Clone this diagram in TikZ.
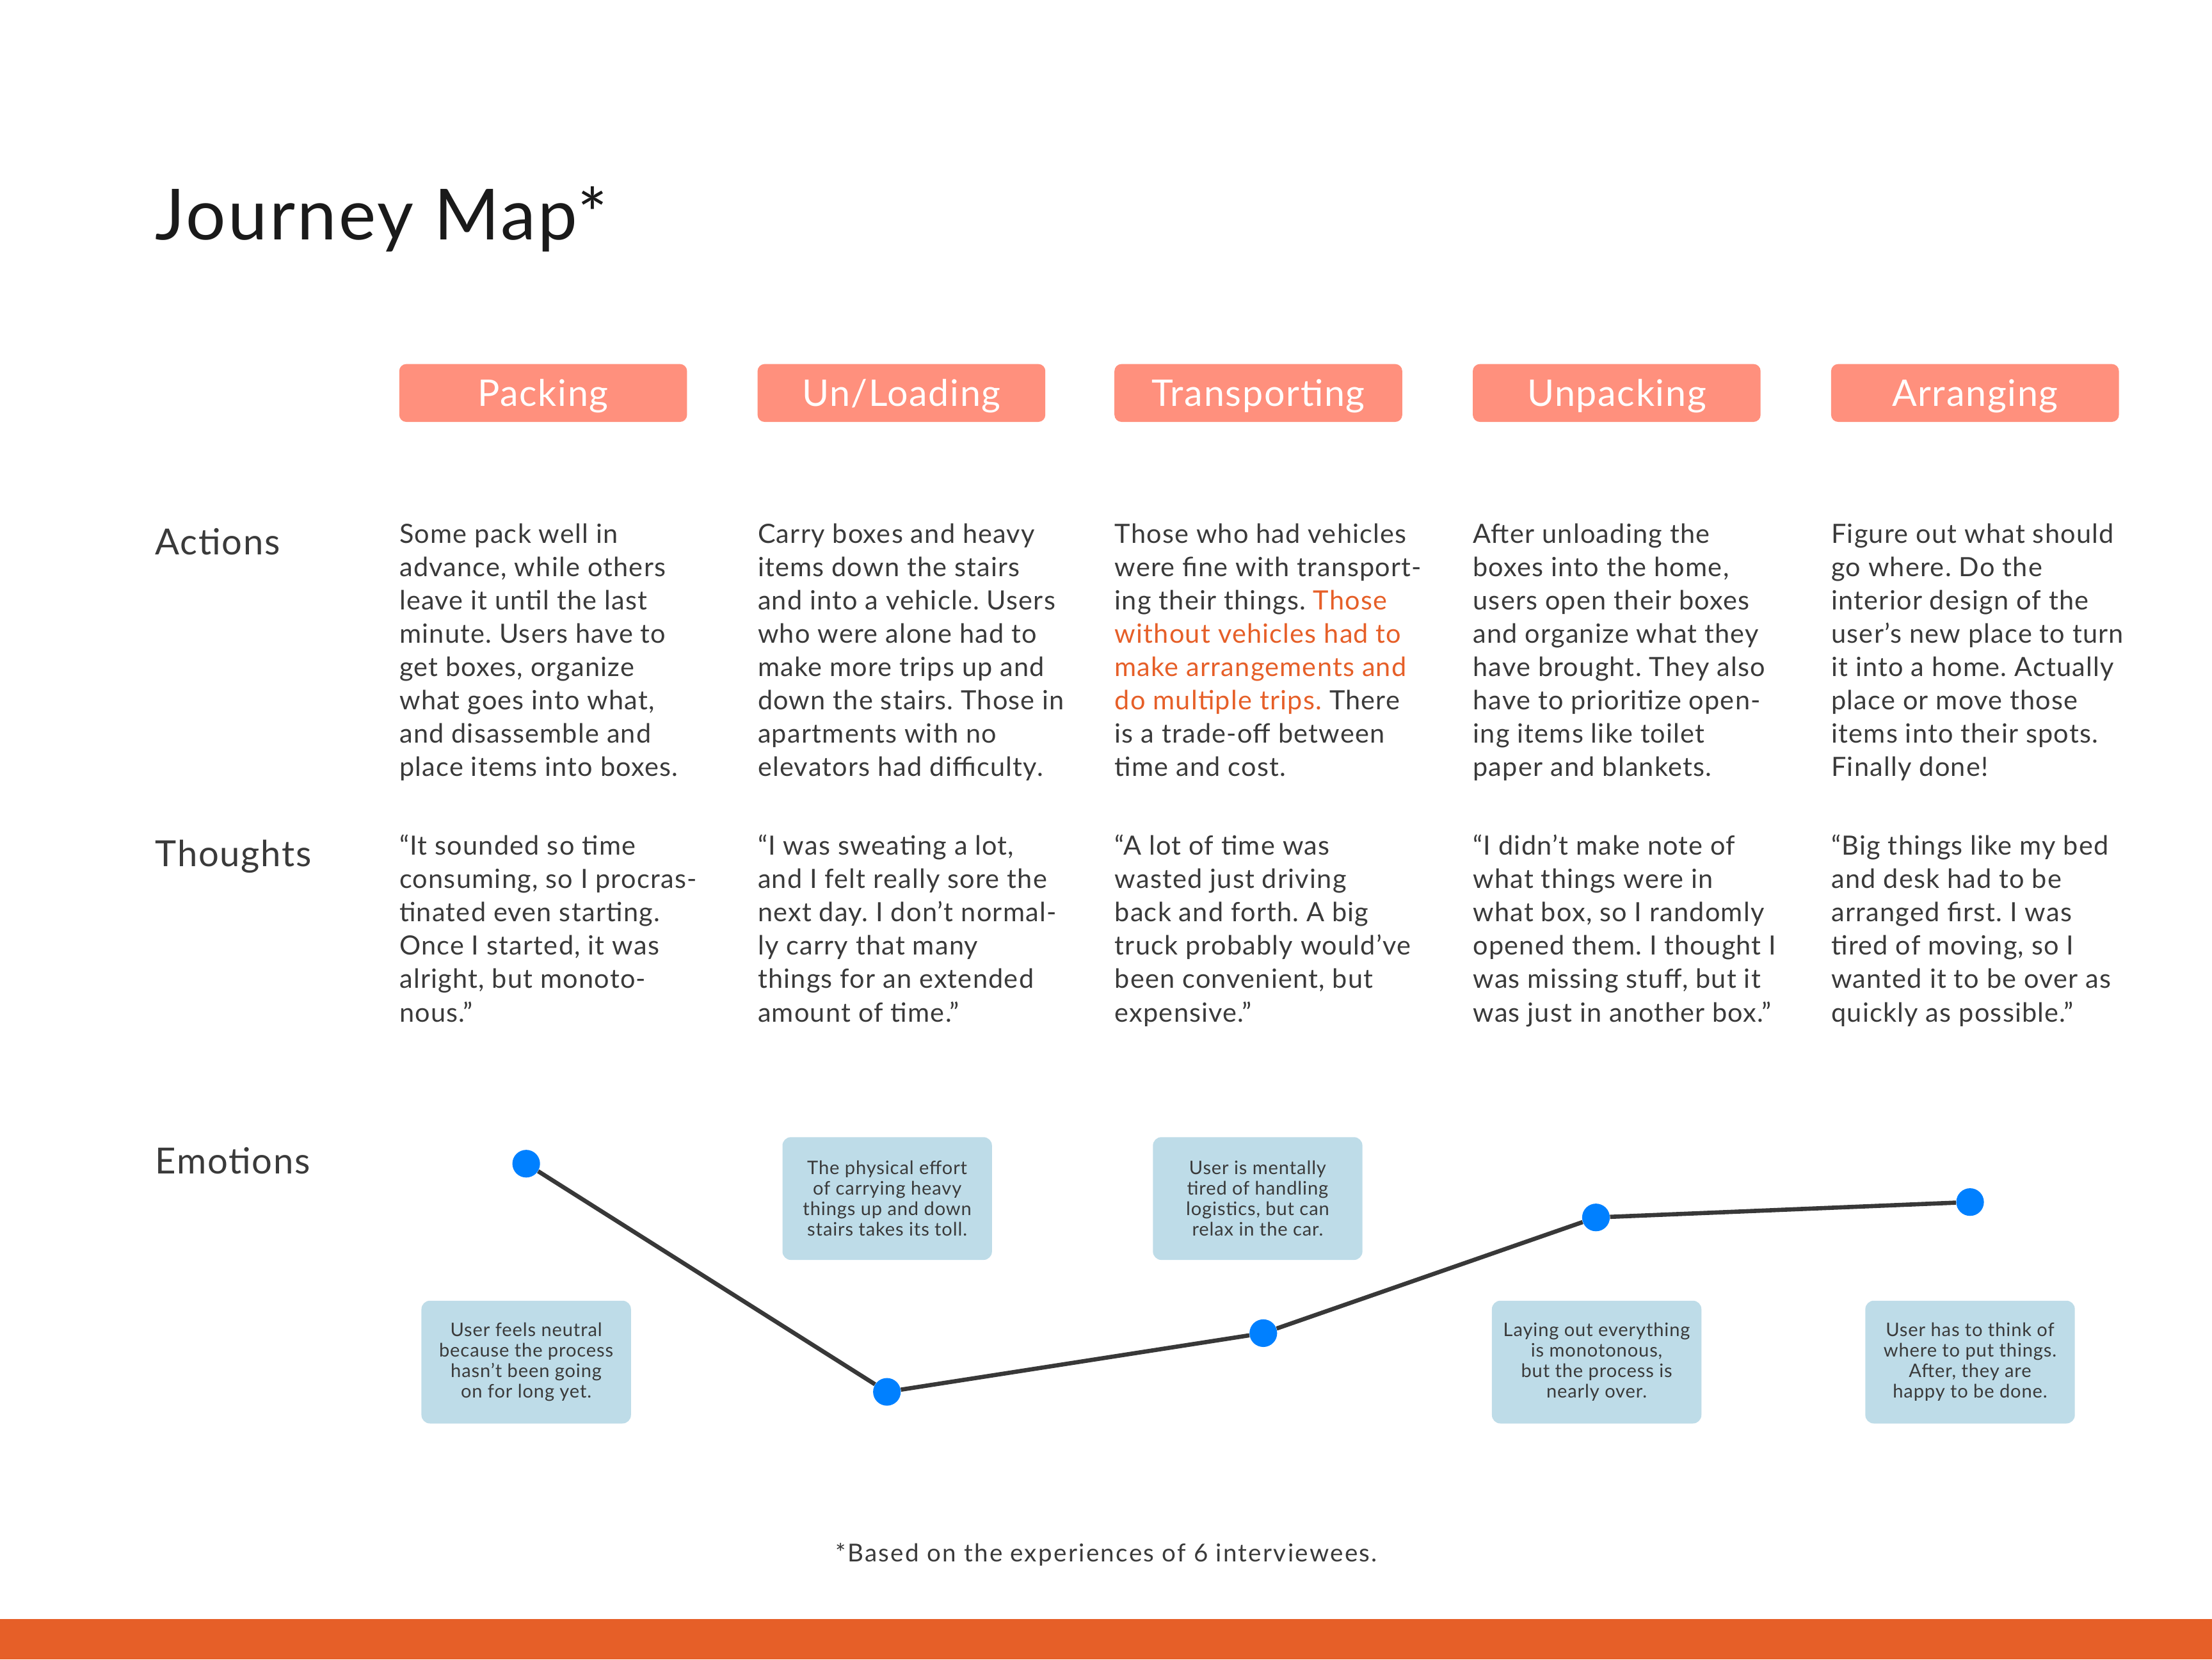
\documentclass[tikz,border=0pt]{standalone}
\usepackage{fontspec}
\setmainfont{Lato}[LetterSpace=3]
\frenchspacing
\definecolor{salmon}{HTML}{FF907D}
\definecolor{accent}{HTML}{E65F28}
\definecolor{ink}{HTML}{3A3A3A}
\definecolor{titleink}{HTML}{1A1A1A}
\definecolor{boxblue}{HTML}{BEDCE8}
\definecolor{dotblue}{HTML}{0080FF}
\definecolor{linegray}{HTML}{383838}
\newcommand{\topstrut}{\rule{0pt}{16pt}}
\begin{document}
\begin{tikzpicture}[x=1pt,y=-1pt,
  stagebox/.style={fill=salmon, rounded corners=5pt, minimum width=204pt, minimum height=41pt,
    text=white, font=\fontsize{26}{30}\selectfont, inner sep=0pt, text height=18.5pt, text depth=0pt},
  rowlabel/.style={anchor=base west, inner sep=0pt, text=ink, font=\fontsize{25.5}{28}\selectfont},
  bodytext/.style={anchor=north west, inner sep=0pt, align=left, text=ink, font=\fontsize{18.8}{23.6}\selectfont},
  emonote/.style={fill=boxblue, rounded corners=6pt, minimum width=148.5pt, minimum height=87pt,
    align=center, text=ink, font=\fontsize{13.2}{14.5}\selectfont, inner sep=0pt},
  emodot/.style={circle, fill=dotblue, minimum size=19.6pt, inner sep=0pt},
  emoline/.style={draw=linegray, line width=3pt}
]
\useasboundingbox (0,0) rectangle (1568,1176);
\fill[white] (0,0) rectangle (1568,1176);

% title
\node[anchor=base west, inner sep=0pt, text=titleink, font=\fontsize{50}{56}\selectfont] (title) at (110,170) {Journey Map*};

% stages
\node[stagebox] (s1) at (385,278.5) {Packing};
\node[stagebox] (s2) at (639,278.5) {Un/Loading};
\node[stagebox] (s3) at (892,278.5) {Transporting};
\node[stagebox] (s4) at (1146,278.5) {Unpacking};
\node[stagebox] (s5) at (1400,278.5) {Arranging};

% row labels
\node[rowlabel] (lact) at (110,393) {Actions};
\node[rowlabel] (lthou) at (110,614) {Thoughts};
\node[rowlabel] (lemo) at (110,832) {Emotions};

% actions
\node[bodytext] (a1) at (283,368.9) {\topstrut Some pack well in\\advance, while others\\leave it until the last\\minute. Users have to\\get boxes, organize\\what goes into what,\\and disassemble and\\place items into boxes.};
\node[bodytext] (a2) at (537,368.9) {\topstrut Carry boxes and heavy\\items down the stairs\\and into a vehicle. Users\\who were alone had to\\make more trips up and\\down the stairs. Those in\\apartments with no\\elevators had difficulty.};
\node[bodytext] (a3) at (790,368.9) {\topstrut Those who had vehicles\\were fine with transport-\\ing their things. {\color{accent}Those}\\{\color{accent}without vehicles had to}\\{\color{accent}make arrangements and}\\{\color{accent}do multiple trips.} There\\is a trade-off between\\time and cost.};
\node[bodytext] (a4) at (1044,368.9) {\topstrut After unloading the\\boxes into the home,\\users open their boxes\\and organize what they\\have brought. They also\\have to prioritize open-\\ing items like toilet\\paper and blankets.};
\node[bodytext] (a5) at (1298,368.9) {\topstrut Figure out what should\\go where. Do the\\interior design of the\\user’s new place to turn\\it into a home. Actually\\place or move those\\items into their spots.\\Finally done!};

% thoughts
\node[bodytext] (t1) at (283,589.9) {\topstrut “It sounded so time\\consuming, so I procras-\\tinated even starting.\\Once I started, it was\\alright, but monoto-\\nous.”};
\node[bodytext] (t2) at (537,589.9) {\topstrut “I was sweating a lot,\\and I felt really sore the\\next day. I don’t normal-\\ly carry that many\\things for an extended\\amount of time.”};
\node[bodytext] (t3) at (790,589.9) {\topstrut “A lot of time was\\wasted just driving\\back and forth. A big\\truck probably would’ve\\been convenient, but\\expensive.”};
\node[bodytext] (t4) at (1044,589.9) {\topstrut “I didn’t make note of\\what things were in\\what box, so I randomly\\opened them. I thought I\\was missing stuff, but it\\was just in another box.”};
\node[bodytext] (t5) at (1298,589.9) {\topstrut “Big things like my bed\\and desk had to be\\arranged first. I was\\tired of moving, so I\\wanted it to be over as\\quickly as possible.”};

% emotion notes
\node[emonote] (n1) at (373,965.3) {User feels neutral\\because the process\\hasn’t been going\\on for long yet.};
\node[emonote] (n2) at (628.9,849.4) {The physical effort\\of carrying heavy\\things up and down\\stairs takes its toll.};
\node[emonote] (n3) at (891.5,849.4) {User is mentally\\tired of handling\\logistics, but can\\relax in the car.};
\node[emonote] (n4) at (1131.8,965.3) {Laying out everything\\is monotonous,\\but the process is\\nearly over.};
\node[emonote] (n5) at (1396.5,965.3) {User has to think of\\where to put things.\\After, they are\\happy to be done.};

% emotion curve
\node[emodot] (e1) at (373,824.7) {};
\node[emodot] (e2) at (628.7,986.4) {};
\node[emodot] (e3) at (895.5,944.8) {};
\node[emodot] (e4) at (1131.3,862.8) {};
\node[emodot] (e5) at (1396.5,851.9) {};
\draw[emoline] (e1) -- (e2) -- (e3) -- (e4) -- (e5);

% footer
\node[anchor=base, inner sep=0pt, text=ink, font=\fontsize{17.5}{20}\selectfont\addfontfeatures{LetterSpace=6}] (foot) at (784.3,1106.7) {*Based on the experiences of 6 interviewees.};
\fill[accent] (0,1147.2) rectangle (1568,1176);
\end{tikzpicture}
\end{document}
